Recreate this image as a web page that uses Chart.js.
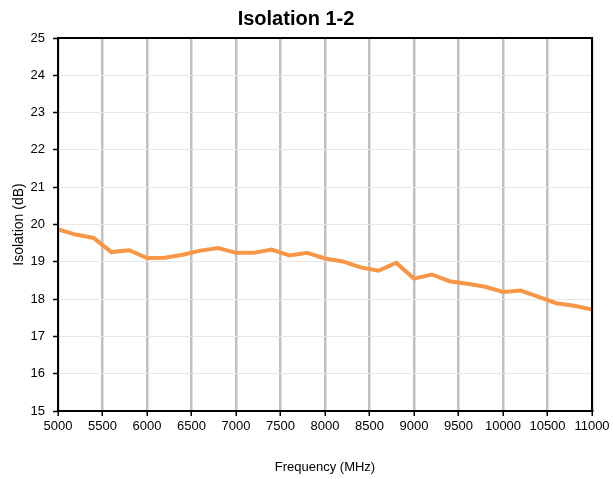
<!DOCTYPE html>
<html>
<head>
<meta charset="utf-8">
<script src="https://cdn.jsdelivr.net/npm/chart.js@4.4.0/dist/chart.umd.min.js"></script>
<style>
  body { margin: 0; background: #fff; }
  #wrap { width: 613px; height: 479px; }
</style>
</head>
<body>
<div id="wrap"><canvas id="isoChart" width="613" height="479"></canvas></div>
<script>
// frequency points (MHz) and measured isolation (dB)
const freqs = [5000, 5200, 5400, 5600, 5800, 6000, 6200, 6400, 6600, 6800,
  7000, 7200, 7400, 7600, 7800, 8000, 8200, 8400, 8600, 8800,
  9000, 9200, 9400, 9600, 9800, 10000, 10200, 10400, 10600, 10800, 11000];
const isolation = [19.87, 19.73, 19.64, 19.26, 19.31, 19.10, 19.11, 19.19, 19.30, 19.37,
  19.24, 19.24, 19.33, 19.17, 19.24, 19.09, 19.01, 18.85, 18.76, 18.97,
  18.55, 18.66, 18.48, 18.41, 18.33, 18.19, 18.23, 18.06, 17.89, 17.82, 17.72];

const xTicks = [5000, 5500, 6000, 6500, 7000, 7500, 8000, 8500, 9000, 9500, 10000, 10500, 11000];
const yTicks = [15, 16, 17, 18, 19, 20, 21, 22, 23, 24, 25];

const points = freqs.map((f, i) => ({ x: f, y: isolation[i] }));

// black frame round the plot area (top and right sides)
const frame = {
  id: 'frame',
  afterDatasetsDraw(chart) {
    const { ctx, chartArea } = chart;
    ctx.save();
    ctx.strokeStyle = '#000';
    ctx.lineWidth = 2;
    ctx.strokeRect(chartArea.left, chartArea.top, chartArea.right - chartArea.left, chartArea.bottom - chartArea.top);
    ctx.restore();
  }
};

const ctx = document.getElementById('isoChart').getContext('2d');

new Chart(ctx, {
  type: 'line',
  data: {
    datasets: [{
      label: 'Isolation 1-2',
      data: points,
      borderColor: '#F79646',
      borderWidth: 4,
      pointRadius: 0,
      tension: 0,
      fill: false
    }]
  },
  options: {
    responsive: false,
    animation: false,
    layout: { padding: { top: 0, right: 21, bottom: 0, left: 0 } },
    plugins: {
      legend: { display: false },
      tooltip: { enabled: false },
      title: {
        display: true,
        text: 'Isolation 1-2',
        color: '#000',
        font: { family: 'Liberation Sans, Arial, sans-serif', size: 20, weight: 'bold' },
        padding: { top: 7, bottom: 7 }
      }
    },
    scales: {
      x: {
        type: 'linear',
        min: 5000,
        max: 11000,
        afterBuildTicks: (scale) => { scale.ticks = xTicks.map(v => ({ value: v })); },
        afterFit: (scale) => { scale.height = 68; },
        ticks: {
          color: '#000',
          padding: 3,
          maxRotation: 0,
          autoSkip: false,
          font: { family: 'Liberation Sans, Arial, sans-serif', size: 13 },
          callback: (v) => String(v)
        },
        grid: {
          color: '#c0c0c0',
          lineWidth: 2.5,
          tickColor: '#000',
          tickLength: 5,
          tickWidth: 1.5
        },
        border: { color: '#000', width: 2 },
        title: {
          display: true,
          text: 'Frequency (MHz)',
          color: '#000',
          font: { family: 'Liberation Sans, Arial, sans-serif', size: 13 },
          padding: { top: 0, bottom: 4 }
        }
      },
      y: {
        min: 15,
        max: 25,
        afterBuildTicks: (scale) => { scale.ticks = yTicks.map(v => ({ value: v })); },
        afterFit: (scale) => { scale.width = 58; },
        ticks: {
          color: '#000',
          padding: 8,
          font: { family: 'Liberation Sans, Arial, sans-serif', size: 13 }
        },
        grid: {
          color: '#e6e6e6',
          lineWidth: 1,
          tickColor: '#000',
          tickLength: 5,
          tickWidth: 1.5
        },
        border: { color: '#000', width: 2 },
        title: {
          display: true,
          text: 'Isolation (dB)',
          color: '#000',
          font: { family: 'Liberation Sans, Arial, sans-serif', size: 14 },
          padding: { top: 11, bottom: 0 }
        }
      }
    }
  },
  plugins: [frame]
});
</script>
</body>
</html>
